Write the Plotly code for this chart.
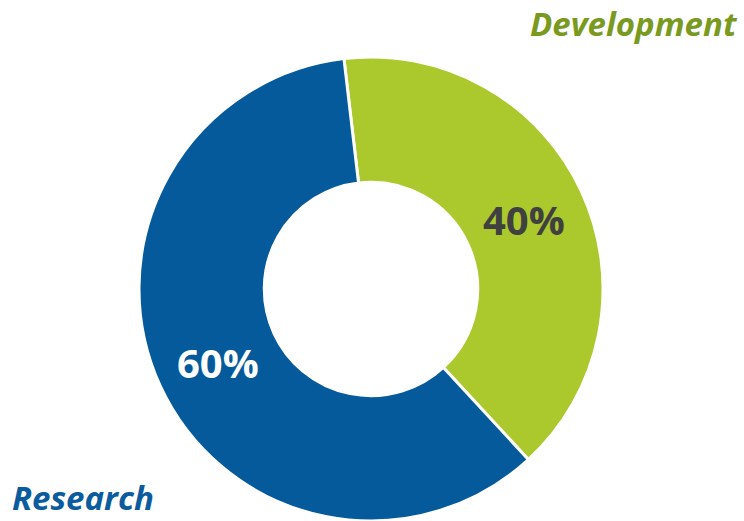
import plotly.graph_objects as go

labels = ["Development", "Research"]
values = [40, 60]
colors = ["#abc92d", "#045a9b"]
label_colors = ["#7a9a1f", "#0b5c9e"]
pct_colors = ["#404040", "#ffffff"]

W, H = 744, 521

fig = go.Figure(go.Pie(
    labels=labels,
    values=values,
    hole=0.46,
    sort=False,
    direction="clockwise",
    rotation=-6.7,
    marker=dict(colors=colors, line=dict(color="white", width=3)),
    textinfo="none",
    hoverinfo="label+percent",
    showlegend=False,
    domain=dict(x=[139 / W, 603 / W], y=[0, 464 / H]),
))

font_family = "Open Sans"
# percentage labels
pct_pos = [(524, 219), (218, 362)]
for v, c, (px, py) in zip(values, pct_colors, pct_pos):
    fig.add_annotation(
        x=px / W, y=1 - py / H, xref="paper", yref="paper",
        text=f"<b>{v}%</b>", showarrow=False,
        font=dict(family=font_family, size=40, color=c),
        xanchor="center", yanchor="middle",
    )

# category labels
name_pos = [(740, 23, "right"), (10, 497, "left")]
for name, c, (px, py, anc) in zip(labels, label_colors, name_pos):
    fig.add_annotation(
        x=px / W, y=1 - py / H, xref="paper", yref="paper",
        text=f"<b><i>{name}</i></b>", showarrow=False,
        font=dict(family=font_family, size=33, color=c),
        xanchor=anc, yanchor="middle",
    )

fig.update_layout(
    width=W, height=H,
    margin=dict(l=0, r=0, t=0, b=0),
    paper_bgcolor="white",
    plot_bgcolor="white",
)

fig.write_html("out.html")
